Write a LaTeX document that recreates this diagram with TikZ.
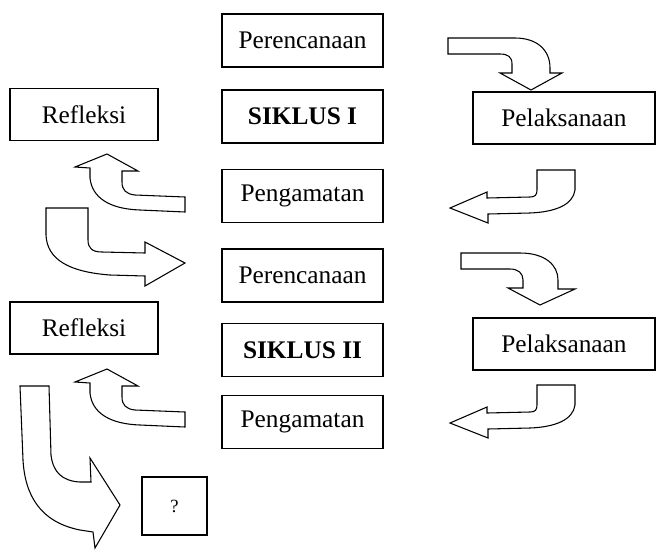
\documentclass[tikz,border=0pt]{standalone}
\usepackage{fontspec}
\setmainfont{Liberation Serif}
\begin{document}
\begin{tikzpicture}[x=0.75pt,y=-0.75pt,
  box/.style={draw,line width=1.3pt,inner sep=0pt,font=\fontsize{19}{22}\selectfont},
  cbox/.style={box,minimum width=120.75pt,minimum height=39.75pt},
  rbox/.style={box,minimum width=111pt,minimum height=39pt},
  pbox/.style={box,minimum width=136.5pt,minimum height=39pt},
  barrow/.style={draw,fill=white,line width=0.8pt,line join=miter}]
\useasboundingbox (0,0) rectangle (659,550);
% boxes
\node[cbox] (p1) at (302.5,40.5) {Perencanaan};
\node[cbox] (s1) at (302.5,116.5) {\textbf{SIKLUS I}};
\node[cbox] (g1) at (302.5,196) {Pengamatan};
\node[cbox] (p2) at (302.5,275.5) {Perencanaan};
\node[cbox] (s2) at (302.5,350) {\textbf{SIKLUS II}};
\node[cbox] (g2) at (302.5,422) {Pengamatan};
\node[rbox] (r1) at (84,114.5) {Refleksi};
\node[rbox] (r2) at (84,328) {Refleksi};
\node[pbox] (l1) at (564,118) {Pelaksanaan};
\node[pbox] (l2) at (564,344) {Pelaksanaan};
\node[box,minimum width=48.75pt,minimum height=43.5pt,font=\fontsize{14}{16}\selectfont] (q) at (174.5,506) {?};
% block arrows
% A1: Perencanaan -> Pelaksanaan (cycle I)
\draw[barrow] (448,38) -- (515,38) .. controls (537,38) and (550,50) .. (550,68) -- (550,73) -- (562,73) -- (531,90) -- (500,73) -- (512,73) -- (512,64) .. controls (512,57) and (508,54) .. (500,54) -- (448,54) -- cycle;
% A3: Pelaksanaan -> Pengamatan
\draw[barrow] (575,170) -- (575,190) .. controls (573,205) and (555,212) .. (530,213) -- (488,214) -- (488,223) -- (450,208) -- (487,192) -- (487,198) -- (530,197) .. controls (535,197) and (537,195) .. (537,190) -- (537,170) -- cycle;
% A2: Pengamatan -> Refleksi
\draw[barrow] (185,197) -- (135,195) .. controls (126,194) and (122,190) .. (122,182) -- (122,171) -- (138,171) -- (107,154) -- (75,167) -- (90,168) -- (90,178) .. controls (92,198) and (110,209) .. (140,210) -- (185,212) -- cycle;
% A4: Refleksi -> Perencanaan (cycle II)
\draw[barrow] (46,208) -- (88,208) -- (88,240) .. controls (88,248) and (92,252) .. (102,252) -- (145,253) -- (145,242) -- (185,263) -- (145,286) -- (145,276) -- (110,275) .. controls (70,272) and (47,260) .. (46,235) -- cycle;
% A5
\draw[barrow] (461,253) -- (520,253) .. controls (545,253) and (558,265) .. (558,280) -- (558,289) -- (575,289) -- (540,305) -- (508,288) -- (523,288) -- (523,280) .. controls (523,273) and (518,269) .. (510,269) -- (461,269) -- cycle;
% A7 and A6 (cycle II, same shapes shifted down)
\begin{scope}[yshift=-215*0.75pt]
\draw[barrow] (575,170) -- (575,190) .. controls (573,205) and (555,212) .. (530,213) -- (488,214) -- (488,223) -- (450,208) -- (487,192) -- (487,198) -- (530,197) .. controls (535,197) and (537,195) .. (537,190) -- (537,170) -- cycle;
\draw[barrow] (185,197) -- (135,195) .. controls (126,194) and (122,190) .. (122,182) -- (122,171) -- (138,171) -- (107,154) -- (75,167) -- (90,168) -- (90,178) .. controls (92,198) and (110,209) .. (140,210) -- (185,212) -- cycle;
\end{scope}
% A8: Refleksi -> ?
\draw[barrow] (20,386) -- (49,386) -- (51,455) .. controls (53,472) and (62,481) .. (80,482) -- (91,482) -- (90,458) -- (120,505) -- (95,548) -- (93,532) -- (80,530) .. controls (40,522) and (25,495) .. (23,460) -- cycle;
\end{tikzpicture}
\end{document}
